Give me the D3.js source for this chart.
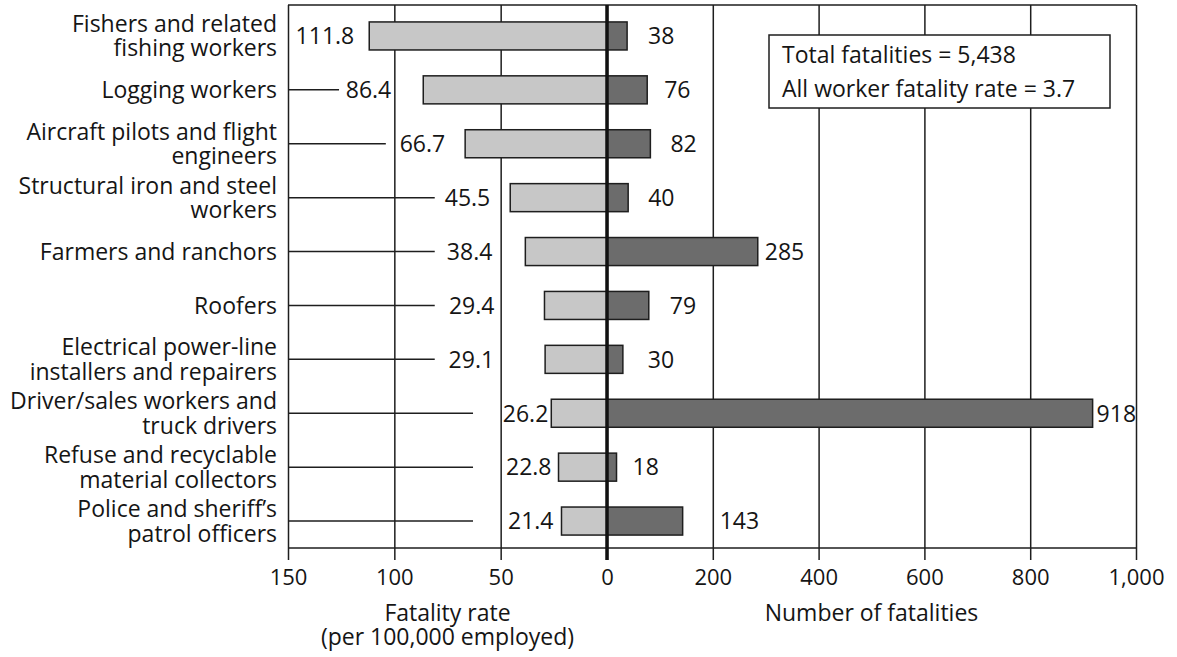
<!DOCTYPE html>
<html>
<head>
<meta charset="utf-8">
<script src="https://cdn.jsdelivr.net/npm/d3@7"></script>
<style>
  body { margin: 0; background: #fff; }
  text { font-family: "Open Sans", "Noto Sans", sans-serif; fill: #151515; }
</style>
</head>
<body>
<div id="container"></div>
<script>
/** DATA */
const categories = [
  "Fishers and related\nfishing workers",
  "Logging workers",
  "Aircraft pilots and flight\nengineers",
  "Structural iron and steel\nworkers",
  "Farmers and ranchors",
  "Roofers",
  "Electrical power-line\ninstallers and repairers",
  "Driver/sales workers and\ntruck drivers",
  "Refuse and recyclable\nmaterial collectors",
  "Police and sheriff’s\npatrol officers"
];
const rates = [111.8, 86.4, 66.7, 45.5, 38.4, 29.4, 29.1, 26.2, 22.8, 21.4];
const counts = [38, 76, 82, 40, 285, 79, 30, 918, 18, 143];
const rateTicks = [150, 100, 50, 0];
const countTicks = [200, 400, 600, 800, 1000];
const noteLines = ["Total fatalities = 5,438", "All worker fatality rate = 3.7"];

/** LABEL LAYOUT (hand placed in the original) */
const rateLabelGap = [15, 32, 20, 20, 33, 50, 51, 3, 7, 8];      // px left of bar
const leaderTo = [null, 126, 104, 81, 81, 81, 81, 63, 63, 63];    // rate units
const countLabelGap = [21, 17, 20, 20, 7, 21, 25, 4, 16, 37];     // px right of bar

/** CONSTANTS */
const width = 1177, height = 657;
const plotTop = 5, plotBottom = 548, tickEnd = 560;
const plotLeft = 288, mid = 607, plotRight = 1136;
const ink = "#1e1e1e";
const fs = "23px";

const svg = d3.select("#container").append("svg")
  .attr("width", width)
  .attr("height", height);

const xRate = d3.scaleLinear().domain([150, 0]).range([plotLeft, mid]);
const xCount = d3.scaleLinear().domain([0, 1000]).range([mid, plotRight]);
const y = d3.scaleBand()
  .domain(d3.range(categories.length))
  .range([9, plotBottom])
  .paddingInner(0.48)
  .paddingOuter(0.24);

// axes with gridlines
const rateAxis = d3.axisBottom(xRate)
  .tickValues(rateTicks)
  .tickSize(-(tickEnd - plotTop))
  .tickPadding(9);
const countAxis = d3.axisBottom(xCount)
  .tickValues(countTicks)
  .tickFormat(d3.format(","))
  .tickSize(-(tickEnd - plotTop))
  .tickPadding(9);

[rateAxis, countAxis].forEach(ax => {
  const g = svg.append("g")
    .attr("transform", `translate(0,${tickEnd})`)
    .call(ax);
  g.select(".domain").remove();
  g.selectAll(".tick line").attr("stroke", ink).attr("stroke-width", 1.5);
  g.selectAll(".tick text")
    .attr("fill", "#151515")
    .style("font-size", "22px")
    .style("font-family", "'Open Sans', sans-serif");
});

// frame top and bottom
svg.append("line")
  .attr("x1", plotLeft).attr("x2", plotRight).attr("y1", plotTop).attr("y2", plotTop)
  .attr("stroke", ink).attr("stroke-width", 1.5);
svg.append("line")
  .attr("x1", plotLeft).attr("x2", plotRight).attr("y1", plotBottom).attr("y2", plotBottom)
  .attr("stroke", ink).attr("stroke-width", 1.5);

// leader lines
svg.selectAll("line.leader")
  .data(d3.range(categories.length).filter(i => leaderTo[i] !== null))
  .join("line")
  .attr("class", "leader")
  .attr("x1", plotLeft)
  .attr("x2", i => xRate(leaderTo[i]))
  .attr("y1", i => y(i) + y.bandwidth() / 2)
  .attr("y2", i => y(i) + y.bandwidth() / 2)
  .attr("stroke", ink)
  .attr("stroke-width", 1.5);

// bars
svg.selectAll("rect.rate")
  .data(rates)
  .join("rect")
  .attr("class", "rate")
  .attr("x", d => xRate(d))
  .attr("y", (d, i) => y(i))
  .attr("width", d => xRate(0) - xRate(d))
  .attr("height", y.bandwidth())
  .attr("fill", "#c7c7c7")
  .attr("stroke", ink)
  .attr("stroke-width", 1.5);

svg.selectAll("rect.count")
  .data(counts)
  .join("rect")
  .attr("class", "count")
  .attr("x", xCount(0))
  .attr("y", (d, i) => y(i))
  .attr("width", d => xCount(d) - xCount(0))
  .attr("height", y.bandwidth())
  .attr("fill", "#6c6c6c")
  .attr("stroke", ink)
  .attr("stroke-width", 1.5);

// center line
svg.append("line")
  .attr("x1", mid).attr("x2", mid).attr("y1", plotTop).attr("y2", tickEnd)
  .attr("stroke", "#111").attr("stroke-width", 3.5);

// value labels
svg.selectAll("text.rateLabel")
  .data(rates)
  .join("text")
  .attr("class", "rateLabel")
  .attr("x", (d, i) => xRate(d) - rateLabelGap[i])
  .attr("y", (d, i) => y(i) + y.bandwidth() / 2)
  .attr("dy", "0.36em")
  .attr("text-anchor", "end")
  .style("font-size", fs)
  .text(d => d.toFixed(1));

svg.selectAll("text.countLabel")
  .data(counts)
  .join("text")
  .attr("class", "countLabel")
  .attr("x", (d, i) => xCount(d) + countLabelGap[i])
  .attr("y", (d, i) => y(i) + y.bandwidth() / 2)
  .attr("dy", "0.36em")
  .style("font-size", fs)
  .text(d => d3.format(",")(d));

// category labels
const cat = svg.selectAll("text.cat")
  .data(categories)
  .join("text")
  .attr("class", "cat")
  .attr("text-anchor", "end")
  .style("font-size", fs);
cat.each(function(d, i) {
  const lines = d.split("\n");
  const cy = y(i) + y.bandwidth() / 2;
  const lh = 24.5;
  d3.select(this).selectAll("tspan")
    .data(lines)
    .join("tspan")
    .attr("x", 277)
    .attr("y", (l, j) => cy + (j - (lines.length - 1) / 2) * lh)
    .attr("dy", "0.36em")
    .text(l => l);
});

// axis titles
svg.append("text")
  .attr("x", (plotLeft + mid) / 2).attr("y", 621)
  .attr("text-anchor", "middle").style("font-size", fs)
  .text("Fatality rate");
svg.append("text")
  .attr("x", (plotLeft + mid) / 2).attr("y", 645)
  .attr("text-anchor", "middle").style("font-size", fs)
  .text("(per 100,000 employed)");
svg.append("text")
  .attr("x", (mid + plotRight) / 2).attr("y", 621)
  .attr("text-anchor", "middle").style("font-size", fs)
  .text("Number of fatalities");

// note box
svg.append("rect")
  .attr("x", 769).attr("y", 35)
  .attr("width", 341).attr("height", 73)
  .attr("fill", "#fff")
  .attr("stroke", ink)
  .attr("stroke-width", 1.5);
svg.selectAll("text.note")
  .data(noteLines)
  .join("text")
  .attr("class", "note")
  .attr("x", 782)
  .attr("y", (d, i) => 63 + i * 34)
  .style("font-size", fs)
  .text(d => d);
</script>
</body>
</html>
